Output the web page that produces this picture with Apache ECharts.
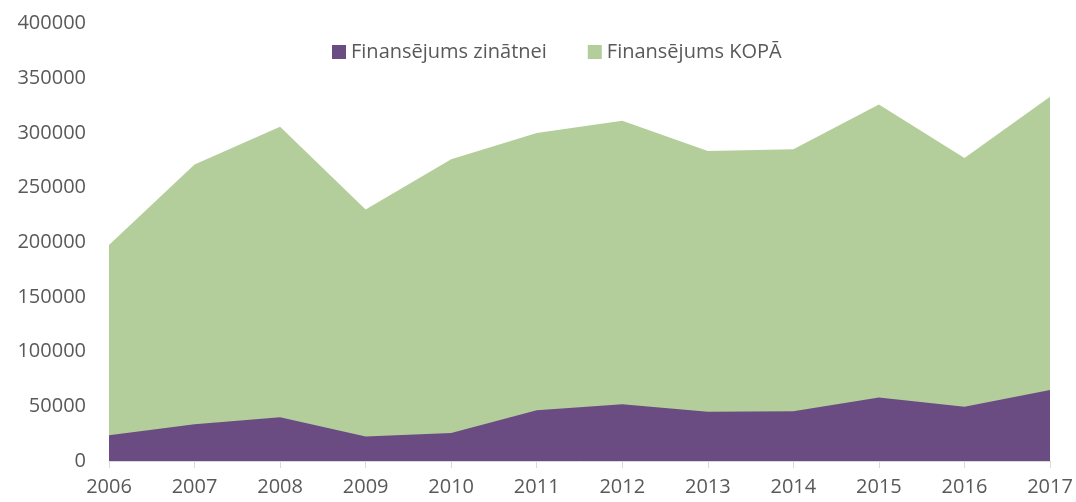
<!DOCTYPE html>
<html>
<head>
<meta charset="utf-8">
<script src="https://cdn.jsdelivr.net/npm/echarts@6/dist/echarts.min.js"></script>
<style>
html, body { margin: 0; padding: 0; background: #fff; }
#chart { width: 1076px; height: 502px; }
</style>
</head>
<body>
<div id="chart"></div>
<script>
var years = ['2006', '2007', '2008', '2009', '2010', '2011', '2012', '2013', '2014', '2015', '2016', '2017'];
var zinatnei = [23500, 33500, 40000, 22500, 25500, 46500, 52000, 45000, 45500, 58000, 49500, 65000];
var kopa = [197500, 271000, 305500, 230000, 276000, 300000, 311000, 283500, 285000, 326000, 277000, 333000];
var yTicks = [0, 50000, 100000, 150000, 200000, 250000, 300000, 350000, 400000];

var myChart = echarts.init(document.getElementById('chart'));

var options = {
    animation: false,
    textStyle: { fontFamily: 'Open Sans' },
    legend: {
        top: 37,
        left: 327,
        itemWidth: 14,
        itemHeight: 14,
        itemGap: 41,
        icon: 'rect',
        textStyle: { color: '#595959', fontSize: 20, fontFamily: 'Open Sans' },
        data: ['Finansējums zinātnei', 'Finansējums KOPĀ']
    },
    grid: {
        left: 109,
        right: 26,
        top: 23.5,
        bottom: 41
    },
    xAxis: {
        type: 'category',
        boundaryGap: false,
        data: years,
        axisLine: { lineStyle: { color: '#d9d9d9', width: 1 } },
        axisTick: { show: true, length: 7, lineStyle: { color: '#d9d9d9' } },
        axisLabel: { color: '#595959', fontSize: 20, margin: 16 }
    },
    yAxis: {
        type: 'value',
        min: yTicks[0],
        max: yTicks[yTicks.length - 1],
        interval: 50000,
        axisLine: { show: false },
        axisTick: { show: false },
        splitLine: { show: false },
        axisLabel: {
            color: '#595959', fontSize: 20, margin: 23,
            formatter: function (v) { return String(v); }
        }
    },
    series: [{
        name: 'Finansējums KOPĀ',
        type: 'line',
        z: 1,
        symbol: 'none',
        lineStyle: { width: 0 },
        itemStyle: { color: '#b3ce9b' },
        areaStyle: { color: '#b3ce9b', opacity: 1 },
        data: kopa
    }, {
        name: 'Finansējums zinātnei',
        type: 'line',
        z: 2,
        symbol: 'none',
        lineStyle: { width: 0 },
        itemStyle: { color: '#6a4c83' },
        areaStyle: { color: '#6a4c83', opacity: 1 },
        data: zinatnei
    }]
};

myChart.setOption(options);
</script>
</body>
</html>
